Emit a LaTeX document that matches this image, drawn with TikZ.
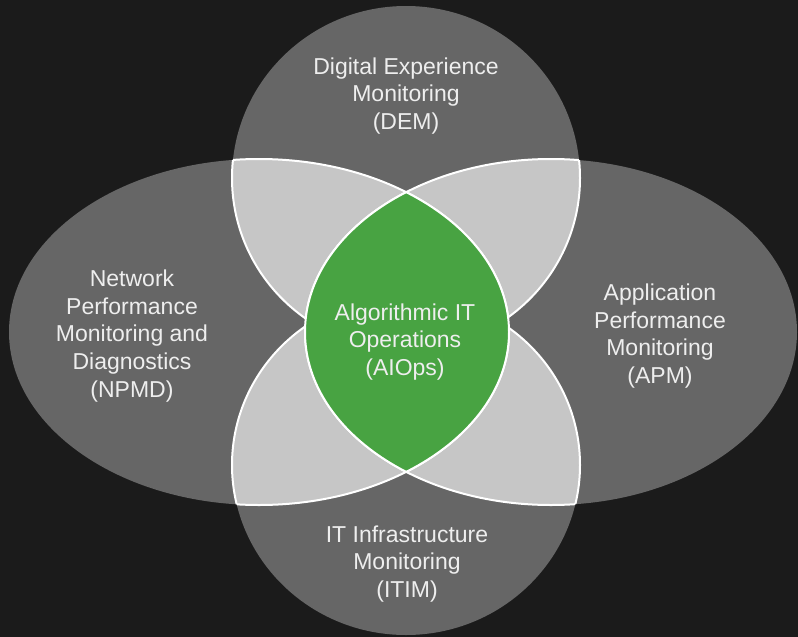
\documentclass[tikz,border=0pt]{standalone}
\usepackage{fontspec}
\setmainfont{Liberation Sans}
\definecolor{bg}{HTML}{1B1B1B}
\definecolor{darkfill}{HTML}{666666}
\definecolor{lightfill}{HTML}{C6C6C6}
\definecolor{aigreen}{HTML}{48A342}
\definecolor{txt}{HTML}{EEEEEE}
\newcommand\ellL{(259,332) ellipse [x radius=250, y radius=173]}
\newcommand\ellR{(551,332) ellipse [x radius=246, y radius=173]}
\newcommand\ellT{(406,178) ellipse [x radius=174, y radius=172]}
\newcommand\ellB{(406,465) ellipse [x radius=174, y radius=170]}
\begin{document}
\begin{tikzpicture}[x=1pt,y=-1pt,
  lbl/.style={align=center, text=txt, font=\fontsize{23}{27.7}\selectfont, inner sep=0pt},
  border/.style={draw=white, line width=2pt}]
\useasboundingbox (0,0) rectangle (798,637);
\fill[bg] (0,0) rectangle (798,637);
% base ellipses
\fill[darkfill] \ellL;
\fill[darkfill] \ellR;
\fill[darkfill] \ellT;
\fill[darkfill] \ellB;
% light overlaps
\begin{scope}
  \clip \ellL;
  \fill[lightfill] \ellT;
  \fill[lightfill] \ellB;
  \draw[border] \ellT;
  \draw[border] \ellB;
\end{scope}
\begin{scope}
  \clip \ellR;
  \fill[lightfill] \ellT;
  \fill[lightfill] \ellB;
  \draw[border] \ellT;
  \draw[border] \ellB;
\end{scope}
\begin{scope}
  \clip \ellT;
  \draw[border] \ellL;
  \draw[border] \ellR;
\end{scope}
\begin{scope}
  \clip \ellB;
  \draw[border] \ellL;
  \draw[border] \ellR;
\end{scope}
% green centre
\begin{scope}
  \clip \ellL;
  \fill[aigreen] \ellR;
  \draw[border] \ellR;
\end{scope}
\begin{scope}
  \clip \ellR;
  \draw[border] \ellL;
\end{scope}
% labels
\node[lbl] (dem) at (406,96) {Digital Experience\\Monitoring\\(DEM)};
\node[lbl] (npmd) at (132,336) {Network\\Performance\\Monitoring and\\Diagnostics\\(NPMD)};
\node[lbl] (apm) at (660,336) {Application\\Performance\\Monitoring\\(APM)};
\node[lbl] (aiops) at (405,342) {Algorithmic IT\\Operations\\(AIOps)};
\node[lbl] (itim) at (407,564) {IT Infrastructure\\Monitoring\\(ITIM)};
\end{tikzpicture}
\end{document}
